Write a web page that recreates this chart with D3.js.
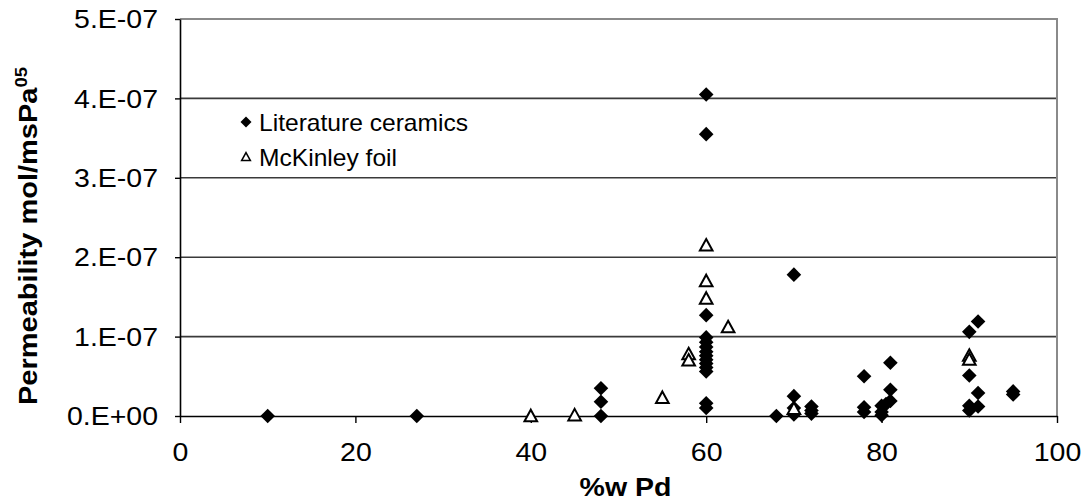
<!DOCTYPE html>
<html>
<head>
<meta charset="utf-8">
<script src="https://cdnjs.cloudflare.com/ajax/libs/d3/7.8.5/d3.min.js"></script>
<style>
  html, body { margin: 0; padding: 0; background: #fff; }
  svg { display: block; font-family: "Liberation Sans", Arial, sans-serif; }
</style>
</head>
<body>
<svg id="chart" width="1089" height="503"></svg>
<script>
// Literature ceramics (filled diamonds): Pd content (%w) and permeability
const ceramicsX = [10, 27, 48, 48, 48,
  60, 60, 60, 60, 60, 60, 60, 60, 60, 60, 60, 60, 60, 60,
  68, 70, 70, 70, 70, 72, 72, 72,
  78, 78, 78, 80, 80, 80, 80.5, 81, 81, 81,
  90, 90, 90, 90, 91, 91, 91, 95, 95];
const ceramicsY = [0, 0, 0, 1.8e-8, 3.5e-8,
  4.05e-7, 3.55e-7, 1.27e-7, 9.9e-8, 9.3e-8, 8.7e-8, 8.1e-8, 7.6e-8, 7.1e-8, 6.6e-8, 6.1e-8, 5.6e-8, 1.6e-8, 1.0e-8,
  0, 1.78e-7, 2.5e-8, 1.0e-8, 2e-9, 1.2e-8, 7e-9, 3e-9,
  5.0e-8, 1.1e-8, 5e-9, 1.3e-8, 5e-9, 1e-9, 1.5e-8, 6.7e-8, 3.3e-8, 1.9e-8,
  1.06e-7, 5.1e-8, 1.3e-8, 7e-9, 1.19e-7, 2.9e-8, 1.2e-8, 3.1e-8, 2.7e-8];

// McKinley foil (open triangles)
const foilX = [40, 45, 55, 58, 58, 60, 60, 60, 62.5, 70, 90, 90];
const foilY = [0, 1e-9, 2.3e-8, 7.8e-8, 7.0e-8, 2.15e-7, 1.70e-7, 1.48e-7, 1.12e-7, 9e-9, 7.6e-8, 7.1e-8];

// Axis ticks and labels
const xTicks = [0, 20, 40, 60, 80, 100];
const xTickLabels = ["0", "20", "40", "60", "80", "100"];
const yTicks = [0, 1e-7, 2e-7, 3e-7, 4e-7, 5e-7];
const yTickLabels = ["0.E+00", "1.E-07", "2.E-07", "3.E-07", "4.E-07", "5.E-07"];

const seriesNames = ["Literature ceramics", "McKinley foil"];
const xTitle = "%w Pd";
const yTitle = "Permeability mol/msPa";
const yTitleSup = "05";

const svg = d3.select("#chart");
const plotL = 180, plotR = 1057, plotT = 19, plotB = 416;
const STRETCH = 1.14;

const x = d3.scaleLinear().domain([0, 100]).range([plotL, plotR]);
const y = d3.scaleLinear().domain([0, 5e-7]).range([plotB, plotT]);

// Horizontal gridlines
svg.append("g").selectAll("line")
  .data(yTicks.filter(v => v > 0 && v < 5e-7))
  .join("line")
  .attr("x1", plotL).attr("x2", plotR)
  .attr("y1", d => y(d)).attr("y2", d => y(d))
  .attr("stroke", "#3a3a3a").attr("stroke-width", 1.6);

// Plot frame (top and right)
svg.append("path")
  .attr("d", `M${plotL},${y(5e-7)}H${plotR}V${plotB}`)
  .attr("fill", "none").attr("stroke", "#8a8a8a").attr("stroke-width", 2);

// Axes
const xAxis = d3.axisBottom(x).tickValues(xTicks)
  .tickFormat((d, i) => xTickLabels[i]).tickSize(7).tickSizeOuter(0);
const yAxis = d3.axisLeft(y).tickValues(yTicks)
  .tickFormat((d, i) => yTickLabels[i]).tickSize(5).tickSizeOuter(0);

const gx = svg.append("g").attr("transform", `translate(0,${plotB})`).call(xAxis);
const gy = svg.append("g").attr("transform", `translate(${plotL},0)`).call(yAxis);

[gx, gy].forEach(g => {
  g.select(".domain").attr("stroke", "#000").attr("stroke-width", 1.6);
  g.selectAll(".tick line").attr("stroke", "#000").attr("stroke-width", 1.4);
});

gx.selectAll(".tick text")
  .attr("x", 0).attr("y", 0).attr("dy", 0)
  .attr("transform", `translate(0,45) scale(${STRETCH},1)`)
  .attr("fill", "#000")
  .style("font-size", "25px").style("font-family", "'Liberation Sans', Arial, sans-serif");

gy.selectAll(".tick text")
  .attr("x", 0).attr("dy", "0.35em")
  .attr("transform", `translate(-22,0) scale(${STRETCH},1)`)
  .attr("fill", "#000")
  .style("font-size", "25px").style("font-family", "'Liberation Sans', Arial, sans-serif");

// Axis titles
svg.append("text")
  .attr("transform", `translate(${(plotL + plotR) / 2 + 7},496) scale(${STRETCH},1)`)
  .attr("text-anchor", "middle")
  .style("font-size", "25px").style("font-weight", "bold")
  .text(xTitle);

const yt = svg.append("text")
  .attr("transform", `translate(37,405) rotate(-90) scale(1.16,1)`)
  .attr("text-anchor", "start")
  .style("font-size", "25px").style("font-weight", "bold");
yt.append("tspan").text(yTitle);
yt.append("tspan").attr("dy", -10).style("font-size", "16px").text(yTitleSup);

// Marker shapes
const diamond = r => `M0,${-r}L${r},0L0,${r}L${-r},0Z`;
const triangle = s => `M0,${-s * 0.55}L${s * 0.55},${s * 0.45}L${-s * 0.55},${s * 0.45}Z`;

const ceramics = ceramicsX.map((v, i) => ({ x: v, y: ceramicsY[i] }));
const foil = foilX.map((v, i) => ({ x: v, y: foilY[i] }));

svg.append("g").selectAll("path")
  .data(ceramics)
  .join("path")
  .attr("d", diamond(7.3))
  .attr("transform", d => `translate(${x(d.x)},${y(d.y)})`)
  .attr("fill", "#000");

svg.append("g").selectAll("path")
  .data(foil)
  .join("path")
  .attr("d", triangle(11.5))
  .attr("transform", d => `translate(${x(d.x)},${y(d.y)})`)
  .attr("fill", "#fff").attr("stroke", "#000").attr("stroke-width", 2);

// Legend
const legend = svg.append("g");
legend.append("path").attr("d", diamond(5.5))
  .attr("transform", "translate(246,122)").attr("fill", "#000");
legend.append("path").attr("d", triangle(8))
  .attr("transform", "translate(246,157)")
  .attr("fill", "#fff").attr("stroke", "#000").attr("stroke-width", 1.5);
legend.selectAll("text")
  .data(seriesNames)
  .join("text")
  .attr("transform", (d, i) => `translate(259,${131 + i * 35}) scale(1.07,1)`)
  .style("font-size", "23px")
  .text(d => d);
</script>
</body>
</html>
